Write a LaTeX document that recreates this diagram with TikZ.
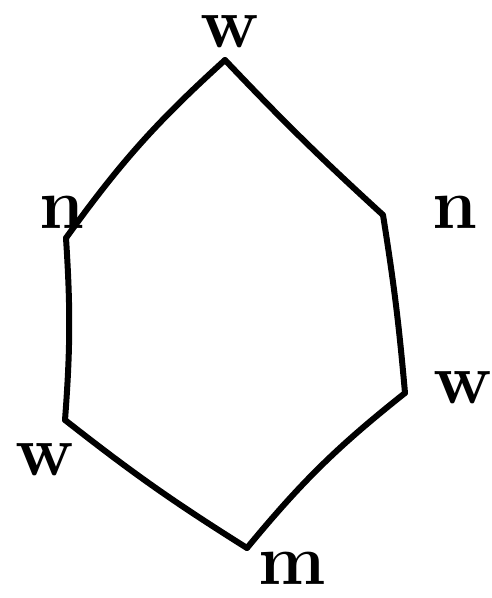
\documentclass[tikz,border=0pt]{standalone}
\usepackage{tikz}
\usetikzlibrary{positioning, calc}
\definecolor{ink}{RGB}{0,0,0}
\tikzset{
  stroke/.style={draw=ink,line width=6pt,line cap=round,line join=round},
  letter/.style={font=\fontsize{72}{72}\selectfont\bfseries,text=ink,inner sep=0pt},
}
\begin{document}
\begin{tikzpicture}[x=1pt,y=-1pt]
  \useasboundingbox (0,0) rectangle (492,598);
  % corners of the hexagon
  \coordinate (top) at (225,60);
  \coordinate (ul) at (66,238);
  \coordinate (ll) at (65,420);
  \coordinate (bot) at (247,548);
  \coordinate (lr) at (405,393);
  \coordinate (ur) at (383,215);
  % sides
  \draw[stroke] (top) to[bend right=6] (ul);
  \draw[stroke] (ul) to[bend left=4] (ll);
  \draw[stroke] (ll) to[bend right=3] (bot);
  \draw[stroke] (bot) to[bend left=6] (lr);
  \draw[stroke] (lr) to[bend right=2] (ur);
  \draw[stroke] (ur) to[bend left=2] (top);
  % labels
  \node[letter] (wtop) at (230,32) {w};
  \node[letter] (nul) at (62,212) {n};
  \node[letter] (nur) at (455,212) {n};
  \node[letter] (wlr) at (463,388) {w};
  \node[letter] (wll) at (45,460) {w};
  \node[letter] (mbot) at (292,568) {m};
\end{tikzpicture}
\end{document}
